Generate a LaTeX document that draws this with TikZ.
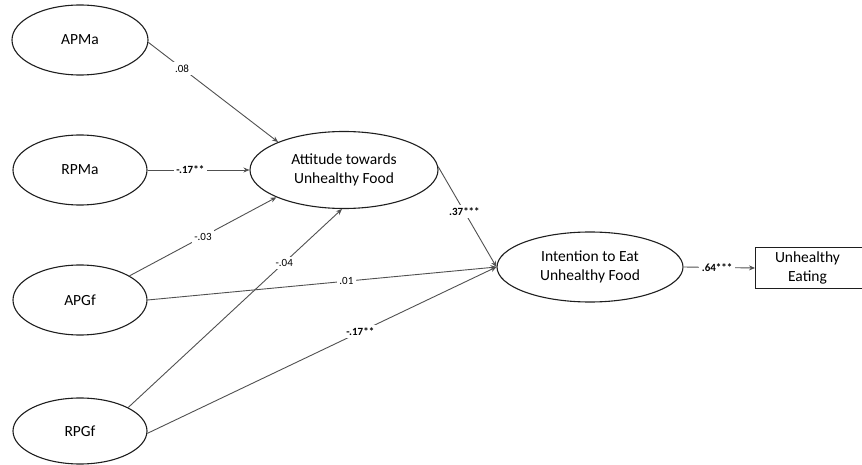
\documentclass[tikz,border=0pt]{standalone}
\usepackage{fontspec}
\setmainfont{Carlito}
\usetikzlibrary{arrows.meta,shapes.geometric}
\definecolor{edgegrey}{HTML}{505050}
\definecolor{outline}{HTML}{1E1E1E}
\tikzset{
  latent/.style={ellipse, draw=outline, line width=1.1pt, fill=white, inner sep=0pt,
    font=\fontsize{15.5}{19.5}\selectfont, align=center},
  observed/.style={rectangle, draw=outline, line width=1.1pt, fill=white, inner sep=0pt,
    font=\fontsize{15.5}{19.5}\selectfont, align=center},
  path/.style={draw=edgegrey, line width=0.9pt, -{Stealth[length=6pt,width=5pt]}},
  coef/.style={fill=white, inner sep=2.5pt, font=\fontsize{11}{12}\selectfont, text=black},
  coefb/.style={coef, font=\fontsize{11}{12}\selectfont\bfseries}
}
\begin{document}
\begin{tikzpicture}[x=1pt,y=-1pt]
\useasboundingbox (0,0) rectangle (862,465);
\node[latent, minimum width=136pt, minimum height=70pt] (apma) at (80,40) {APMa};
\node[latent, minimum width=134pt, minimum height=70pt] (rpma) at (80,170) {RPMa};
\node[latent, minimum width=134pt, minimum height=70pt] (apgf) at (80,300) {APGf};
\node[latent, minimum width=134pt, minimum height=66pt] (rpgf) at (80,431) {RPGf};
\node[latent, minimum width=188pt, minimum height=77pt] (att) at (344,170) {Attitude towards\\Unhealthy Food};
\node[latent, minimum width=186pt, minimum height=70pt] (int) at (590,267) {Intention to Eat\\Unhealthy Food};
\node[observed, minimum width=112pt, minimum height=41pt, anchor=west] (ue) at (755,268) {};
\node[font=\fontsize{15.5}{19.5}\selectfont, align=center, inner sep=0pt] (uetext) at (807.5,268) {Unhealthy\\Eating};

\draw[path] (apma.-2) -- node[coef, pos=0.26] {.08} (att.157);
\draw[path] (rpma.east) -- node[coefb, pos=0.42] {-.17**} (att.west);
\draw[path] (apgf.26) -- node[coef, pos=0.5] {-.03} (att.202);
\draw[path] (rpgf.26) -- node[coef, pos=0.73] {-.04} (att.267);
\draw[path] (apgf.east) -- node[coef, pos=0.57] {.01} (int.west);
\draw[path] (rpgf.-2) -- node[coefb, pos=0.61] {-.17**} (int.west);
\draw[path] (att.2) -- node[coefb, pos=0.45] {.37***} (int.west);
\draw[path] (int.east) -- node[coefb, pos=0.47] {.64***} (ue.west);
\end{tikzpicture}
\end{document}
